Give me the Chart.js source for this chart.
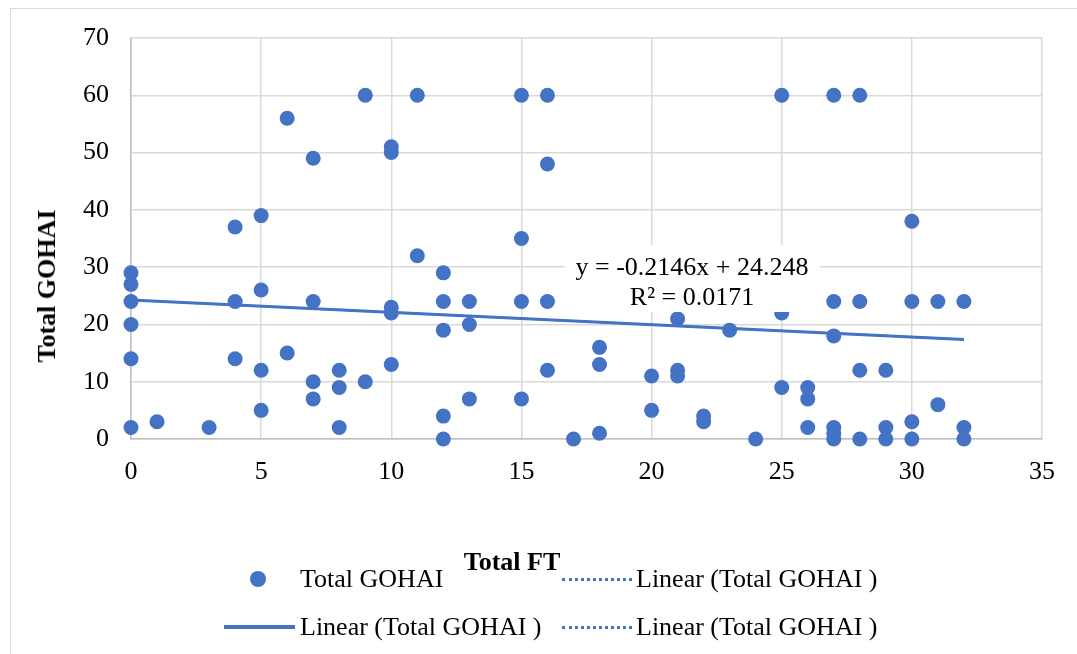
<!DOCTYPE html>
<html>
<head>
<meta charset="utf-8">
<script src="https://cdn.jsdelivr.net/npm/chart.js@4/dist/chart.umd.min.js"></script>
<style>
  html, body { margin: 0; padding: 0; background: #fff; }
  #wrap { position: relative; width: 1077px; height: 654px; overflow: hidden; font-family: "Liberation Serif", "Times New Roman", serif; }
  #frame { position: absolute; left: 10px; top: 8px; width: 1200px; height: 800px; border: 1.5px solid #d9d9d9; box-sizing: border-box; }
  canvas { position: absolute; left: 0; top: 0; }
  .title { position: absolute; font-weight: bold; font-size: 26px; color: #000; white-space: nowrap; line-height: 30px; }
  .leg { position: absolute; display: flex; align-items: center; height: 30px; font-size: 26px; color: #000; white-space: nowrap; }
</style>
</head>
<body>
<div id="wrap">
  <div id="frame"></div>
  <canvas id="c" width="1077" height="654"></canvas>
  <div id="ytitle" class="title"></div>
  <div id="xtitle" class="title"></div>
  <div id="legend"></div>
</div>
<script>
// ---- data ----
const totalFT = [0,0,0,0,0,0, 1, 3, 4,4,4, 5,5,5,5, 6,6, 7,7,7,7, 8,8,8, 9,9, 10,10,10,10,10, 11,11, 12,12,12,12,12, 13,13,13, 15,15,15,15, 16,16,16,16, 17, 18,18,18, 20,20, 21,21,21, 22,22, 23, 24, 25,25,25, 26,26,26, 27,27,27,27,27,27, 28,28,28,28, 29,29,29, 30,30,30,30, 31,31, 32,32,32];
const totalGOHAI = [29,27,24,20,14,2, 3, 2, 37,24,14, 39,26,12,5, 56,15, 49,24,10,7, 12,9,2, 60,10, 51,50,23,22,13, 60,32, 29,24,19,4,0, 24,20,7, 60,35,24,7, 60,48,24,12, 0, 16,13,1, 11,5, 21,12,11, 4,3, 19, 0, 60,22,9, 9,7,2, 60,24,18,2,1,0, 60,24,12,0, 12,2,0, 38,24,3,0, 24,6, 24,2,0];
const trendSlope = -0.2146;
const trendIntercept = 24.248;
const trendR2 = "0.0171";
const trendRange = [0, 32];
const xTicks = [0, 5, 10, 15, 20, 25, 30, 35];
const yTicks = [0, 10, 20, 30, 40, 50, 60, 70];
const seriesName = "Total GOHAI";
const trendName = "Linear (Total GOHAI )";
const xTitle = "Total FT";
const yTitle = "Total GOHAI";

const BLUE = '#4472c4';
const FONT = '"Liberation Serif", "Times New Roman", serif';

const scatterData = totalFT.map((x, i) => ({ x: x, y: totalGOHAI[i] }));
const trendData = trendRange.map(x => ({ x: x, y: trendIntercept + trendSlope * x }));

const datasets = [
  { type: 'scatter', label: seriesName, data: scatterData, backgroundColor: BLUE, borderColor: BLUE, borderWidth: 0, pointRadius: 7.5, pointHoverRadius: 7.5, order: 2, clip: false, _leg: 'point' },
  { type: 'line', label: trendName, data: trendData, borderColor: BLUE, borderWidth: 2, borderDash: [2, 3], pointRadius: 0, fill: false, order: 1, clip: false, _leg: 'dot' },
  { type: 'line', label: trendName, data: trendData, borderColor: BLUE, borderWidth: 3, pointRadius: 0, fill: false, order: 0, clip: false, _leg: 'solid' },
  { type: 'line', label: trendName, data: trendData, borderColor: BLUE, borderWidth: 2, borderDash: [2, 3], pointRadius: 0, fill: false, order: 1, clip: false, _leg: 'dot' }
];

const eqLabel = {
  id: 'eqLabel',
  afterDatasetsDraw(chart) {
    const ctx = chart.ctx;
    ctx.save();
    ctx.fillStyle = '#ffffff';
    ctx.fillRect(565, 245, 255, 67);
    ctx.fillStyle = '#000';
    ctx.font = '26px ' + FONT;
    ctx.textAlign = 'center';
    ctx.textBaseline = 'middle';
    const sign = trendSlope < 0 ? '-' : '';
    ctx.fillText('y = ' + sign + Math.abs(trendSlope) + 'x + ' + trendIntercept, 692, 268);
    ctx.fillText('R\u00B2 = ' + trendR2, 692, 298);
    ctx.restore();
  }
};

const tickFont = { family: FONT, size: 26 };

new Chart(document.getElementById('c'), {
  data: { datasets: datasets },
  options: {
    responsive: false,
    animation: false,
    events: [],
    layout: { padding: { left: 0, top: 38, right: 35, bottom: 155 } },
    plugins: { legend: { display: false }, tooltip: { enabled: false }, title: { display: false } },
    scales: {
      x: {
        type: 'linear', min: xTicks[0], max: xTicks[xTicks.length - 1],
        afterBuildTicks: s => { s.ticks = xTicks.map(v => ({ value: v })); },
        afterFit: s => { s.height = 60; },
        ticks: { font: tickFont, color: '#000', padding: 18, maxRotation: 0 },
        grid: { color: '#d9d9d9', lineWidth: 1.5, drawTicks: false },
        border: { display: true, color: '#bfbfbf', width: 1.5 }
      },
      y: {
        type: 'linear', min: yTicks[0], max: yTicks[yTicks.length - 1],
        afterBuildTicks: s => { s.ticks = yTicks.map(v => ({ value: v })); },
        afterFit: s => { s.width = 131; },
        ticks: { font: tickFont, color: '#000', padding: 22 },
        grid: { color: '#d9d9d9', lineWidth: 1.5, drawTicks: false },
        border: { display: true, color: '#bfbfbf', width: 1.5 }
      }
    }
  },
  plugins: [eqLabel]
});

// axis titles
const yt = document.getElementById('ytitle');
yt.textContent = yTitle;
yt.style.left = '47px'; yt.style.top = '286px';
yt.style.transform = 'translate(-50%, -50%) rotate(-90deg)';
const xt = document.getElementById('xtitle');
xt.textContent = xTitle;
xt.style.left = '512px'; xt.style.top = '562px';
xt.style.transform = 'translate(-50%, -50%)';

// legend (2 x 2 grid like the reference)
const legPos = [
  { sx: 250, tx: 300, cy: 579 },
  { sx: 562, tx: 636, cy: 579 },
  { sx: 224, tx: 300, cy: 627 },
  { sx: 562, tx: 636, cy: 627 }
];
const legend = document.getElementById('legend');
datasets.forEach((d, i) => {
  const p = legPos[i];
  const sym = document.createElement('div');
  sym.style.position = 'absolute';
  if (d._leg === 'point') {
    sym.style.left = (p.sx) + 'px'; sym.style.top = (p.cy - 8) + 'px';
    sym.style.width = '16px'; sym.style.height = '16px';
    sym.style.borderRadius = '50%'; sym.style.background = BLUE;
  } else if (d._leg === 'solid') {
    sym.style.left = p.sx + 'px'; sym.style.top = (p.cy - 2) + 'px';
    sym.style.width = '71px'; sym.style.height = '4px'; sym.style.background = BLUE;
  } else {
    sym.style.left = p.sx + 'px'; sym.style.top = (p.cy - 1) + 'px';
    sym.style.width = '70px'; sym.style.height = '0px';
    sym.style.borderTop = '3px dotted ' + BLUE;
  }
  legend.appendChild(sym);
  const t = document.createElement('div');
  t.className = 'leg';
  t.textContent = d.label;
  t.style.left = p.tx + 'px';
  t.style.top = (p.cy - 15) + 'px';
  legend.appendChild(t);
});
</script>
</body>
</html>
